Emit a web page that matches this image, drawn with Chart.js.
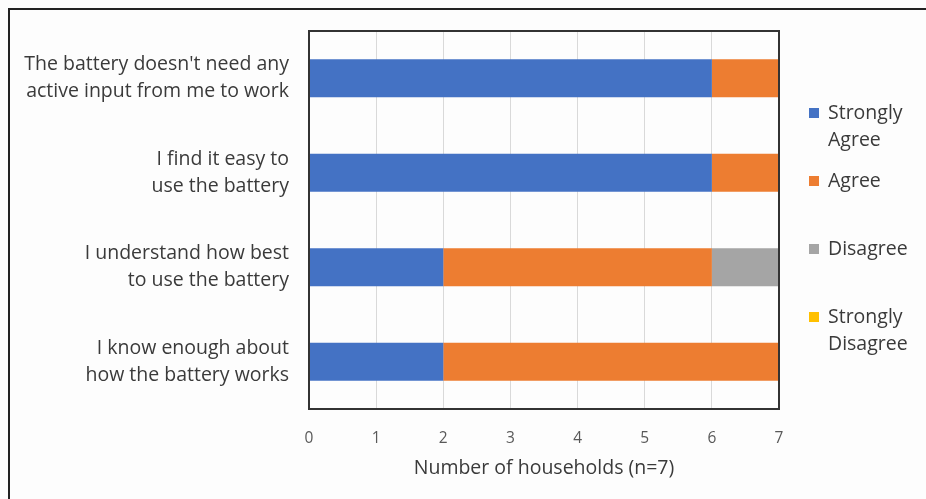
<!DOCTYPE html>
<html>
<head>
<meta charset="utf-8">
<script src="https://cdn.jsdelivr.net/npm/chart.js@4.4.1/dist/chart.umd.min.js"></script>
<style>
  html, body { margin: 0; padding: 0; background: #fdfdfd; overflow: hidden; }
  #frame {
    position: absolute; left: 8px; top: 8px; width: 940px; height: 520px;
    border: 2px solid #222; box-sizing: border-box;
  }
  #wrap { position: absolute; left: 0; top: 0; width: 926px; height: 499px; }
</style>
</head>
<body>
<div id="frame"></div>
<div id="wrap"><canvas id="chart"></canvas></div>
<script>
// survey statements (one bar each) and responses per answer
const statements = [
  ["The battery doesn't need any", "active input from me to work"],
  ["I find it easy to", "use the battery"],
  ["I understand how best", "to use the battery"],
  ["I know enough about", "how the battery works"],
];
const answerNames = ["Strongly Agree", "Agree", "Disagree", "Strongly Disagree"];
const stronglyAgree = [6, 6, 2, 2];
const agree = [1, 1, 4, 5];
const disagree = [0, 0, 1, 0];
const stronglyDisagree = [0, 0, 0, 0];
const answerColors = ["#4472C4", "#ED7D31", "#A5A5A5", "#FFC000"];
const xTicks = [0, 1, 2, 3, 4, 5, 6, 7];

const FONT = "'Open Sans', Lato, sans-serif";

// box around the plot area
const plotFrame = {
  id: "plotFrame",
  afterDatasetsDraw(chart) {
    const { ctx, chartArea: a } = chart;
    ctx.save();
    ctx.strokeStyle = "#333";
    ctx.lineWidth = 2;
    ctx.strokeRect(a.left, a.top, a.right - a.left, a.bottom - a.top);
    ctx.restore();
  }
};

// legend on the right, with long names wrapped onto two lines
const sideLegend = {
  id: "sideLegend",
  afterDraw(chart) {
    const { ctx } = chart;
    const x0 = chart.chartArea.right + 30;
    let y = 113;
    ctx.save();
    ctx.font = "19.5px " + FONT;
    ctx.textBaseline = "middle";
    chart.data.datasets.forEach(ds => {
      ctx.fillStyle = ds.backgroundColor;
      ctx.fillRect(x0, y - 5, 10, 10);
      ctx.fillStyle = "#3a3a3a";
      const lines = ctx.measureText(ds.label).width > 95 ? ds.label.split(" ") : [ds.label];
      lines.forEach((ln, i) => ctx.fillText(ln, x0 + 19, y + i * 27));
      y += 68;
    });
    ctx.restore();
  }
};

const seriesValues = [stronglyAgree, agree, disagree, stronglyDisagree];

new Chart(document.getElementById("chart"), {
  type: "bar",
  data: {
    labels: statements,
    datasets: answerNames.map((name, i) => ({
      label: name,
      data: seriesValues[i],
      backgroundColor: answerColors[i],
      barPercentage: 0.4,
      categoryPercentage: 1,
    })),
  },
  options: {
    indexAxis: "y",
    responsive: true,
    maintainAspectRatio: false,
    animation: false,
    layout: { padding: { left: 0, top: 31, right: 147, bottom: 19 } },
    plugins: { legend: { display: false }, tooltip: { enabled: false } },
    scales: {
      x: {
        stacked: true,
        min: 0,
        max: 7,
        afterBuildTicks(axis) { axis.ticks = xTicks.map(v => ({ value: v })); },
        afterFit(axis) { axis.height = 71; },
        grid: { color: "#d9d9d9", drawTicks: false },
        border: { display: false },
        ticks: { color: "#595959", padding: 20, font: { family: FONT, size: 15.5 } },
        title: {
          display: true,
          text: "Number of households (n=7)",
          color: "#3a3a3a",
          padding: 0,
          font: { family: FONT, size: 19.5 },
        },
      },
      y: {
        stacked: true,
        afterFit(axis) {
          axis.width = 309;
          axis.paddingTop = 0;
          axis.paddingBottom = 0;
        },
        grid: { display: false, drawTicks: false },
        border: { display: false },
        ticks: { color: "#3a3a3a", padding: 20, font: { family: FONT, size: 19.5, lineHeight: 1.38 } },
      },
    },
  },
  plugins: [plotFrame, sideLegend],
});
</script>
</body>
</html>
